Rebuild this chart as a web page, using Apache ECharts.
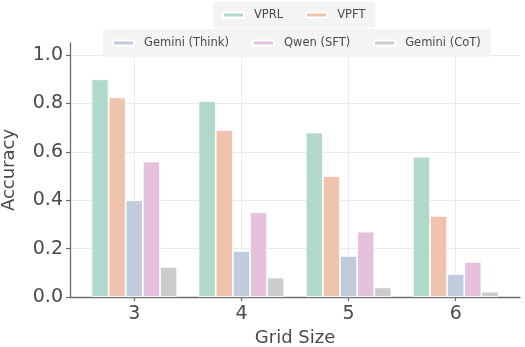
<!DOCTYPE html>
<html>
<head>
<meta charset="utf-8">
<script src="https://cdn.jsdelivr.net/npm/echarts@6/dist/echarts.min.js"></script>
<style>
  html, body { margin: 0; padding: 0; background: #fff; }
  #chart { width: 525px; height: 347px; }
</style>
</head>
<body>
<div id="chart"></div>
<script>
// Grid sizes on the x axis
const gridSizes = [3, 4, 5, 6];

// Accuracy per method, one value per grid size
const vprl        = [0.90, 0.81, 0.68, 0.58];
const vpft        = [0.825, 0.69, 0.50, 0.335];
const geminiThink = [0.40, 0.19, 0.17, 0.095];
const qwenSft     = [0.56, 0.35, 0.27, 0.145];
const geminiCot   = [0.125, 0.08, 0.04, 0.022];

const seriesNames = ['VPRL', 'VPFT', 'Gemini (Think)', 'Qwen (SFT)', 'Gemini (CoT)'];
const seriesValues = [vprl, vpft, geminiThink, qwenSft, geminiCot];
const seriesColors = ['#b1d9ca', '#f0c4ac', '#c1cbde', '#e5c1dd', '#cccccc'];

const yTicks = [0, 0.2, 0.4, 0.6, 0.8, 1.0];

const font = 'DejaVu Sans';
const textColor = '#4a4a4a';
const spineColor = '#6e6e6e';

const chart = echarts.init(document.getElementById('chart'), null, { renderer: 'canvas' });

const legendBase = {
  orient: 'horizontal',
  icon: 'rect',
  itemWidth: 21,
  itemHeight: 5,
  backgroundColor: 'rgba(242,242,242,0.85)',
  borderRadius: 3,
  textStyle: { fontFamily: font, fontSize: 11.5, color: textColor, padding: [0, 0, 0, 5] },
  selectedMode: false
};

chart.setOption({
  animation: false,
  grid: { left: 70, right: 5, top: 43, bottom: 50, containLabel: false, outerBoundsMode: 'none' },
  legend: [
    Object.assign({}, legendBase, {
      data: seriesNames.slice(0, 2),
      left: 213, top: 2,
      padding: [7, 10, 7, 9],
      itemGap: 22
    }),
    Object.assign({}, legendBase, {
      data: seriesNames.slice(2),
      left: 103, top: 29,
      padding: [8, 10, 8, 9],
      itemGap: 23
    })
  ],
  xAxis: {
    type: 'value',
    min: 2.4,
    max: 6.6,
    name: 'Grid Size',
    nameLocation: 'middle',
    nameGap: 32,
    nameMoveOverlap: false,
    nameTextStyle: { fontFamily: font, fontSize: 18, color: textColor },
    axisLine: { show: true, lineStyle: { color: spineColor, width: 1.3 } },
    axisTick: { show: true, length: 4, customValues: gridSizes, lineStyle: { color: spineColor, width: 1.2 } },
    axisLabel: { customValues: gridSizes, margin: 8, fontFamily: font, fontSize: 19, color: textColor },
    splitLine: { show: true, lineStyle: { color: '#ebebeb', width: 1 } }
  },
  yAxis: {
    type: 'value',
    min: 0,
    max: 1.05,
    name: 'Accuracy',
    nameLocation: 'middle',
    nameGap: 52,
    nameMoveOverlap: false,
    nameTextStyle: { fontFamily: font, fontSize: 18, color: textColor },
    axisLine: { show: true, lineStyle: { color: spineColor, width: 1.3 } },
    axisTick: { show: true, length: 4, customValues: yTicks, lineStyle: { color: spineColor, width: 1.2 } },
    axisLabel: {
      customValues: yTicks, margin: 7, fontFamily: font, fontSize: 19, color: textColor,
      formatter: v => v.toFixed(1)
    },
    splitLine: { show: true, lineStyle: { color: '#ebebeb', width: 1 } }
  },
  series: seriesNames.map((name, i) => ({
    name: name,
    type: 'bar',
    barWidth: '16%',
    barGap: '0%',
    data: gridSizes.map((g, j) => [g, seriesValues[i][j]]),
    itemStyle: { color: seriesColors[i], borderColor: '#ffffff', borderWidth: 0.8 }
  }))
});
</script>
</body>
</html>
